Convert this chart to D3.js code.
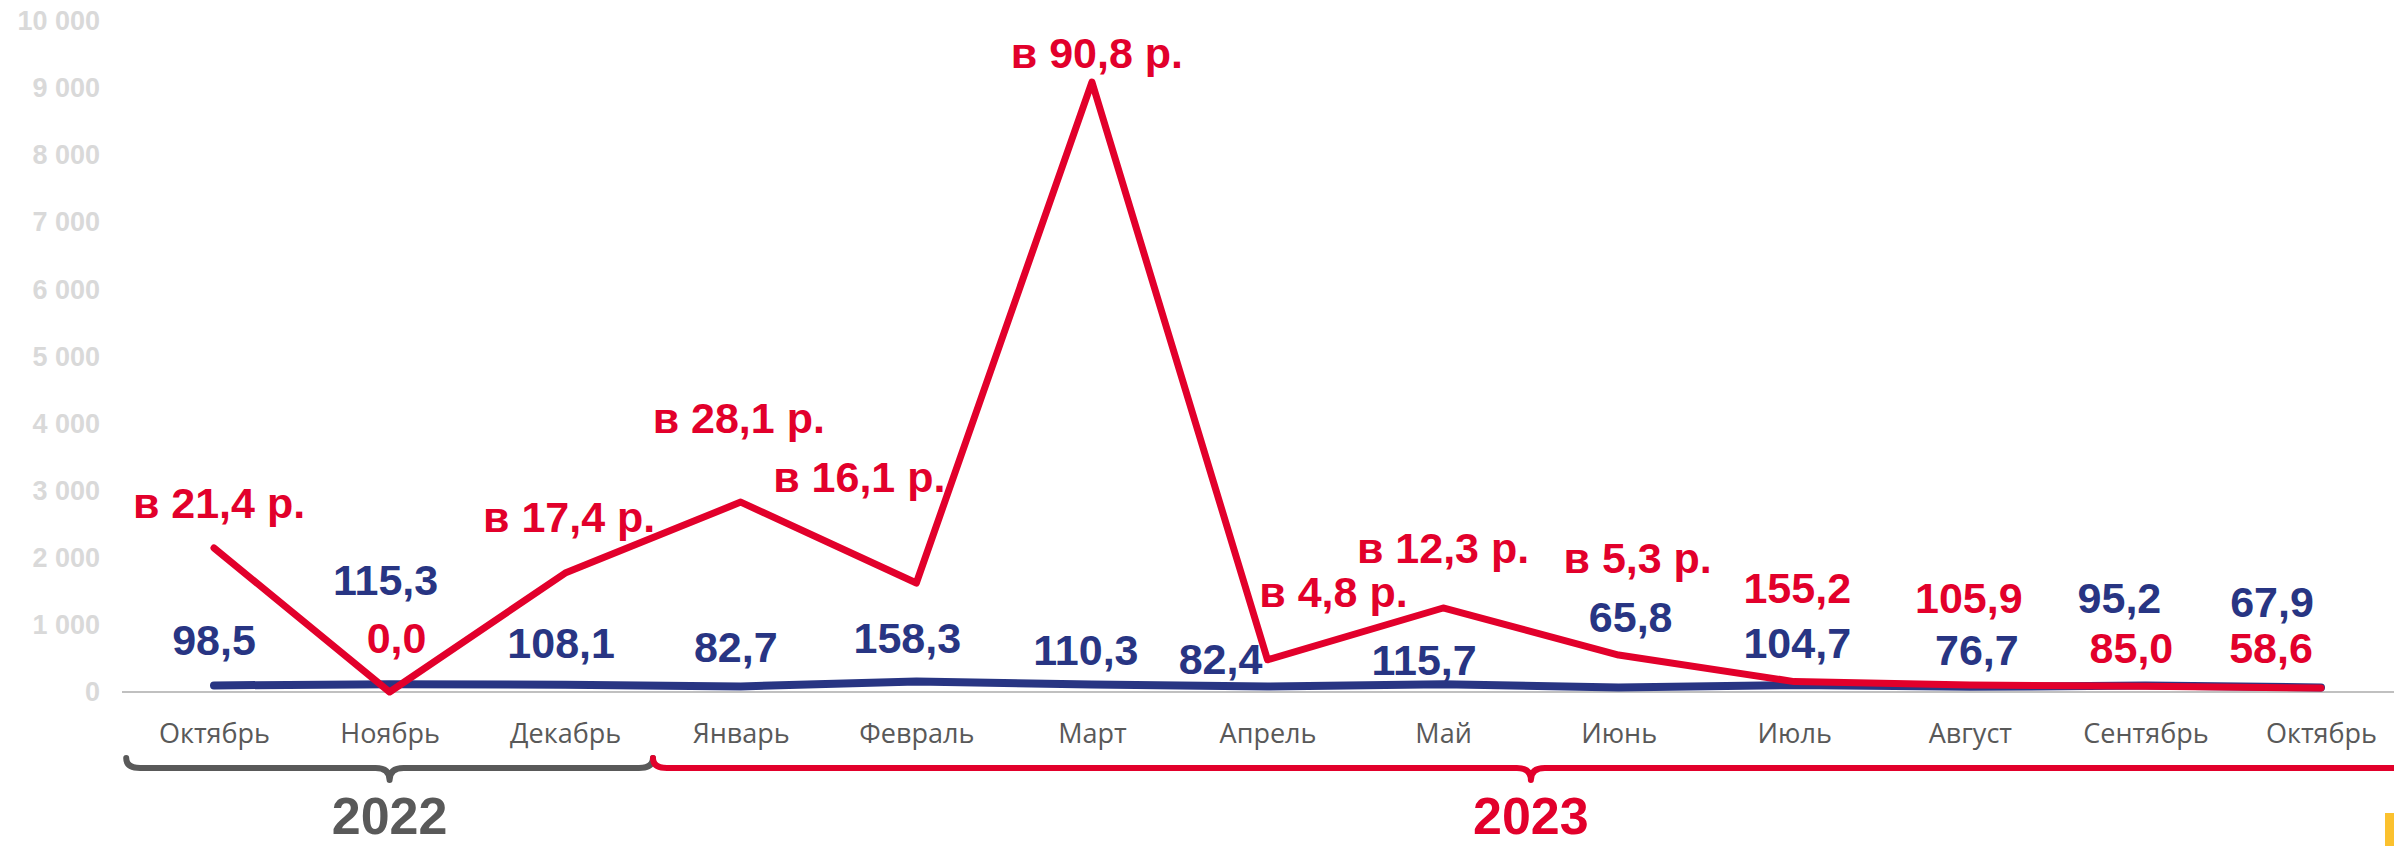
<!DOCTYPE html>
<html lang="ru">
<head>
<meta charset="UTF-8">
<title>Chart</title>
<script src="https://d3js.org/d3.v7.min.js"></script>
<style>
    body { margin: 0; background: #fff; }
    svg { display: block; }
    .ytick text { font-family: "Liberation Sans", Arial, sans-serif; font-weight: bold; font-size: 27px; fill: #d9d9d9; }
    .xtick text { font-family: "Open Sans", sans-serif; font-size: 27px; fill: #595959; }
    .lbl { font-family: "Liberation Sans", Arial, sans-serif; font-weight: bold; font-size: 43px; text-anchor: middle; }
    .year { font-family: "Liberation Sans", Arial, sans-serif; font-weight: bold; font-size: 52px; text-anchor: middle; }
</style>
</head>
<body>
<svg id="chart" width="2394" height="846"></svg>
<script>
    // data
    let months = ["Октябрь", "Ноябрь", "Декабрь", "Январь", "Февраль", "Март", "Апрель",
        "Май", "Июнь", "Июль", "Август", "Сентябрь", "Октябрь"]
    let blueValues = [98.5, 115.3, 108.1, 82.7, 158.3, 110.3, 82.4, 115.7, 65.8, 104.7, 76.7, 95.2, 67.9]
    let redValues = [2146, 0, 1773, 2830, 1624, 9090, 480, 1252, 551, 155.2, 105.9, 85.0, 58.6]
    let redLabels = ["в 21,4 р.", "0,0", "в 17,4 р.", "в 28,1 р.", "в 16,1 р.", "в 90,8 р.", "в 4,8 р.",
        "в 12,3 р.", "в 5,3 р.", "155,2", "105,9", "85,0", "58,6"]
    let yTicks = [0, 1000, 2000, 3000, 4000, 5000, 6000, 7000, 8000, 9000, 10000]
    let years = [
        { label: "2022", from: 0, to: 2, color: "#595959" },
        { label: "2023", from: 3, to: 12, color: "#e2002b" }
    ]

    // label placement (pixel offsets from the point)
    let blueOffsets = [[0, -30], [-4, -89], [-4, -27], [-5, -24], [-9, -28], [-6, -20], [-47, -12],
        [-19, -9], [12, -56], [3, -27], [7, -22], [-26, -73], [-49, -70]]
    let redOffsets = [[5, -30], [7, -39], [4, -41], [-2, -69], [-57, -91], [5, -14], [66, -53],
        [0, -45], [19, -82], [3, -79], [-1, -72], [-14, -23], [-50, -25]]

    let red = "#e2002b"
    let blue = "#283583"
    let width = 2394, height = 846

    let svg = d3.select("#chart")

    let x = d3.scalePoint().domain(d3.range(months.length)).range([214, 2321])
    let step = x.step()
    let y = d3.scaleLinear().domain([0, 10000]).range([692, 21])

    let locale = d3.formatLocale({ decimal: ",", thousands: " ", grouping: [3], currency: ["", ""] })
    let fmtTick = locale.format(",")
    let fmtVal = locale.format(",.1f")

    // y axis labels
    let yAxis = d3.axisLeft(y).tickValues(yTicks).tickSize(0).tickPadding(22).tickFormat(fmtTick)
    svg.append("g").attr("class", "ytick")
        .attr("transform", "translate(122,0)")
        .call(yAxis)
        .call(g => g.select(".domain").remove())

    // x axis labels
    let xAxis = d3.axisBottom(x).tickSize(0).tickFormat(i => months[i])
    svg.append("g").attr("class", "xtick")
        .attr("transform", `translate(0,${y(0)})`)
        .call(xAxis)
        .call(g => g.select(".domain").remove())
        .call(g => g.selectAll("text").attr("y", 51).attr("dy", 0))

    // baseline
    svg.append("line")
        .attr("x1", 122).attr("x2", width)
        .attr("y1", y(0)).attr("y2", y(0))
        .attr("stroke", "#c0c0c0").attr("stroke-width", 2)

    let line = d3.line().x((d, i) => x(i)).y(d => y(d))

    svg.append("path").attr("d", line(blueValues))
        .attr("fill", "none").attr("stroke", blue).attr("stroke-width", 8)
        .attr("stroke-linecap", "round").attr("stroke-linejoin", "round")

    svg.append("path").attr("d", line(redValues))
        .attr("fill", "none").attr("stroke", red).attr("stroke-width", 7)
        .attr("stroke-linecap", "round").attr("stroke-linejoin", "round")

    // value labels
    svg.append("g").selectAll("text").data(blueValues).join("text")
        .attr("class", "lbl").attr("fill", blue)
        .attr("x", (d, i) => x(i) + blueOffsets[i][0])
        .attr("y", (d, i) => y(d) + blueOffsets[i][1])
        .text(d => fmtVal(d))

    svg.append("g").selectAll("text").data(redValues).join("text")
        .attr("class", "lbl").attr("fill", red)
        .attr("x", (d, i) => x(i) + redOffsets[i][0])
        .attr("y", (d, i) => y(d) + redOffsets[i][1])
        .text((d, i) => redLabels[i])

    // year braces
    function brace(x0, x1, yb) {
        let tip = (x0 + x1) / 2
        let r = 14
        return `M${x0},${yb - 10} Q${x0},${yb} ${x0 + r},${yb} L${tip - r},${yb} ` +
            `Q${tip},${yb} ${tip},${yb + 12} Q${tip},${yb} ${tip + r},${yb} ` +
            `L${x1 - r},${yb} Q${x1},${yb} ${x1},${yb - 10}`
    }
    years.forEach(yr => {
        let x0 = x(yr.from) - step / 2
        let x1 = x(yr.to) + step / 2
        svg.append("path").attr("d", brace(x0, x1, 768))
            .attr("fill", "none").attr("stroke", yr.color).attr("stroke-width", 6)
            .attr("stroke-linecap", "round").attr("stroke-linejoin", "round")
        svg.append("text").attr("class", "year").attr("fill", yr.color)
            .attr("x", (x0 + x1) / 2).attr("y", 834)
            .text(yr.label)
    })

    // small yellow mark in the corner
    svg.append("rect").attr("x", 2385).attr("y", 813).attr("width", 9).attr("height", 33)
        .attr("fill", "#fbc12e")
</script>
</body>
</html>
